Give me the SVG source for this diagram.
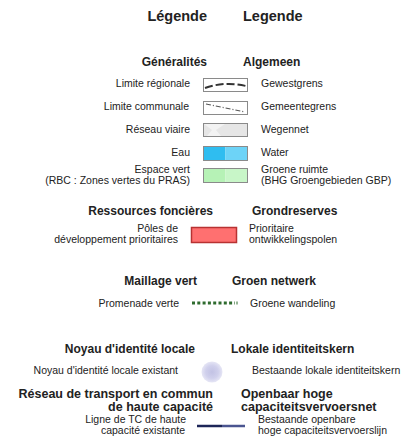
<svg xmlns="http://www.w3.org/2000/svg" width="401" height="441" viewBox="0 0 401 441">
<style>
text{font-family:"Liberation Sans",Arial,sans-serif;fill:#222}
.t{font-size:14.5px;font-weight:bold}
.h{font-size:12px;font-weight:bold}
.h2{font-size:12.5px;font-weight:bold}
.b{font-size:10.5px}
.l{text-anchor:end}
.box{stroke:#8a8a8a;stroke-width:1}
</style>
<defs>
<radialGradient id="rg" cx="0.5" cy="0.5" r="0.5">
<stop offset="0" stop-color="#c2c2e4"/>
<stop offset="0.6" stop-color="#d0d0ec"/>
<stop offset="1" stop-color="#e6e6f5"/>
</radialGradient>
</defs>
<rect width="401" height="441" fill="#fff"/>
<g id="title">
<text class="t l" x="207" y="21">Légende</text>
<text class="t" x="243" y="21">Legende</text>
</g>
<g id="generalites">
<text class="h l" x="207" y="66">Généralités</text>
<text class="h" x="243" y="66">Algemeen</text>
</g>
<g id="limite-regionale">
<text class="b l" x="190" y="87">Limite régionale</text>
<rect class="box" x="203.5" y="78.5" width="44" height="13" fill="#fff"/>
<path d="M205,88 Q225,81 246,86" fill="none" stroke="#333" stroke-width="2" stroke-dasharray="8 3"/>
<text class="b" x="261" y="87">Gewestgrens</text>
</g>
<g id="limite-communale">
<text class="b l" x="189" y="110">Limite communale</text>
<rect class="box" x="203.5" y="101.5" width="44" height="13" fill="#fff"/>
<path d="M206,104 L245,112" fill="none" stroke="#555" stroke-width="1.2" stroke-dasharray="5 2 1 2"/>
<text class="b" x="261" y="110">Gemeentegrens</text>
</g>
<g id="reseau-viaire">
<text class="b l" x="190" y="133">Réseau viaire</text>
<rect class="box" x="203.5" y="123.5" width="44" height="13" fill="#e6e6e6"/>
<path d="M204,124 L212,130 L207,136 H221 L216,130 L225,124 Z" fill="#f3f3f3"/>
<text class="b" x="261" y="133">Wegennet</text>
</g>
<g id="eau">
<text class="b l" x="190" y="156">Eau</text>
<rect x="203.5" y="146.5" width="22" height="14" fill="#2fbdf0"/>
<rect x="225.5" y="146.5" width="22" height="14" fill="#6dd3f7"/>
<rect class="box" x="203.5" y="146.5" width="44" height="14" fill="none"/>
<text class="b" x="261" y="156">Water</text>
</g>
<g id="espace-vert">
<text class="b l" x="190" y="173">Espace vert</text>
<text class="b l" x="190" y="184">(RBC : Zones vertes du PRAS)</text>
<rect x="203.5" y="168.5" width="22" height="14" fill="#b6f2b6"/>
<rect x="225.5" y="168.5" width="22" height="14" fill="#c8f6c8"/>
<rect class="box" x="203.5" y="168.5" width="44" height="14" fill="none"/>
<text class="b" x="261" y="173">Groene ruimte</text>
<text class="b" x="261" y="184">(BHG Groengebieden GBP)</text>
</g>
<g id="ressources">
<text class="h l" x="213" y="215">Ressources foncières</text>
<text class="h" x="252" y="215">Grondreserves</text>
</g>
<g id="poles">
<text class="b l" x="178" y="232">Pôles de</text>
<text class="b l" x="178" y="243">développement prioritaires</text>
<rect x="191.5" y="227.5" width="45" height="15" fill="#ff7070" stroke="#b83232" stroke-width="1.5"/>
<text class="b" x="249" y="232">Prioritaire</text>
<text class="b" x="249" y="243">ontwikkelingspolen</text>
</g>
<g id="maillage">
<text class="h l" x="197" y="285">Maillage vert</text>
<text class="h" x="232" y="285">Groen netwerk</text>
</g>
<g id="promenade">
<text class="b l" x="179" y="307">Promenade verte</text>
<line x1="192" y1="303" x2="235" y2="303" stroke="#2e6b2e" stroke-width="3" stroke-dasharray="3 2.3"/>
<line x1="237" y1="301.5" x2="237" y2="304.5" stroke="#2e6b2e" stroke-width="1"/>
<text class="b" x="250" y="307">Groene wandeling</text>
</g>
<g id="noyau">
<text class="h l" x="195" y="353">Noyau d'identité locale</text>
<text class="h" x="231" y="353">Lokale identiteitskern</text>
</g>
<g id="noyau-existant">
<text class="b l" x="178" y="374">Noyau d'identité locale existant</text>
<circle cx="212" cy="372" r="10.5" fill="url(#rg)"/>
<text class="b" x="252" y="374">Bestaande lokale identiteitskern</text>
</g>
<g id="reseau-tc">
<text class="h2 l" x="213" y="398">Réseau de transport en commun</text>
<text class="h2 l" x="213" y="411">de haute capacité</text>
<text class="h2" x="241" y="398">Openbaar hoge</text>
<text class="h2" x="241" y="411">capaciteitsvervoersnet</text>
</g>
<g id="ligne-tc">
<text class="b l" x="186" y="423">Ligne de TC de haute</text>
<text class="b l" x="185" y="434">capacité existante</text>
<line x1="197" y1="426" x2="222" y2="426" stroke="#1d2658" stroke-width="2.5"/>
<line x1="222" y1="426" x2="245" y2="426" stroke="#4a5590" stroke-width="2.5"/>
<text class="b" x="258" y="423">Bestaande openbare</text>
<text class="b" x="258" y="434">hoge capaciteitsvervoerslijn</text>
</g>
</svg>
